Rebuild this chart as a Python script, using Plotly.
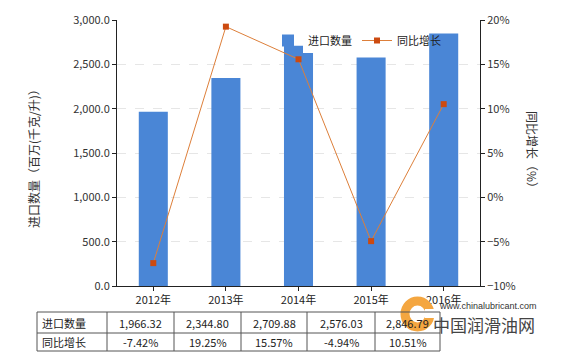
import plotly.graph_objects as go

years = ["2012年", "2013年", "2014年", "2015年", "2016年"]
import_qty = [1966.32, 2344.80, 2709.88, 2576.03, 2846.79]
yoy_growth = [-7.42, 19.25, 15.57, -4.94, 10.51]
qty_labels = ["1,966.32", "2,344.80", "2,709.88", "2,576.03", "2,846.79"]
growth_labels = ["-7.42%", "19.25%", "15.57%", "-4.94%", "10.51%"]
row_names = ["进口数量", "同比增长"]

OFF = 8  # browser default body margin
W, H = 567 - OFF, 360 - OFF
# plot area in reference-page pixels
L, R, T, B = 117, 480, 20, 286
FONT = "Noto Sans CJK SC, Microsoft YaHei, sans-serif"

def px(x):
    return (x - L) / (R - L)

def py(y):
    return (B - y) / (B - T)

fig = go.Figure()
fig.add_trace(go.Bar(x=years, y=import_qty, name="进口数量",
                     marker=dict(color="#4a86d6", line=dict(width=0)),
                     width=0.4, yaxis="y"))
fig.add_trace(go.Scatter(x=years, y=yoy_growth, name="同比增长", yaxis="y2",
                         mode="lines+markers",
                         line=dict(color="#dd7f3a", width=1),
                         marker=dict(symbol="square", size=6, color="#cc4a10")))

shapes = []
annotations = []

# white backing behind legend text (as in the reference)
shapes.append(dict(type="rect", xref="paper", yref="paper", layer="above",
                   x0=px(303), x1=px(427), y0=py(53), y1=py(30),
                   fillcolor="white", line=dict(width=0)))

# watermark logo: thick orange ring with a gap on the right
shapes.append(dict(type="circle", xref="paper", yref="paper",
                   x0=px(405), x1=px(430), y0=py(327), y1=py(301),
                   line=dict(color="#f4a640", width=9)))
shapes.append(dict(type="rect", xref="paper", yref="paper",
                   x0=px(425), x1=px(436), y0=py(318), y1=py(309),
                   fillcolor="white", line=dict(width=0)))

# table grid
col_x = [37, 107, 174, 241, 307, 375, 440]
row_y = [312, 333, 351]
for y in row_y:
    shapes.append(dict(type="line", xref="paper", yref="paper",
                       x0=px(col_x[0]), x1=px(col_x[-1]), y0=py(y), y1=py(y),
                       line=dict(color="#555", width=1)))
for x in col_x:
    shapes.append(dict(type="line", xref="paper", yref="paper",
                       x0=px(x), x1=px(x), y0=py(row_y[0]), y1=py(row_y[-1]),
                       line=dict(color="#555", width=1)))
rows = [qty_labels, growth_labels]
for r, (name, vals) in enumerate(zip(row_names, rows)):
    yc = (row_y[r] + row_y[r + 1]) / 2
    annotations.append(dict(text=name, xref="paper", yref="paper",
                            x=px(col_x[0] + 3), y=py(yc), xanchor="left",
                            yanchor="middle", showarrow=False,
                            font=dict(size=11, color="#222", family=FONT)))
    for i, v in enumerate(vals):
        xc = (col_x[i + 1] + col_x[i + 2]) / 2
        annotations.append(dict(text=v, xref="paper", yref="paper",
                                x=px(xc), y=py(yc), xanchor="center",
                                yanchor="middle", showarrow=False,
                                font=dict(size=11, color="#222", family=FONT)))

# axis titles
annotations.append(dict(text="进口数量（百万(千克/升)）", xref="paper", yref="paper",
                        x=px(33), y=py(156), xanchor="center", yanchor="middle",
                        textangle=-90, showarrow=False,
                        font=dict(size=12, color="#333", family=FONT)))
annotations.append(dict(text="同比增长（%）", xref="paper", yref="paper",
                        x=px(533), y=py(152), xanchor="center", yanchor="middle",
                        textangle=90, showarrow=False,
                        font=dict(size=12, color="#333", family=FONT)))

# watermark text
annotations.append(dict(text="www.chinalubricant.com", xref="paper", yref="paper",
                        x=px(539), y=py(306), xanchor="right", yanchor="middle",
                        showarrow=False,
                        font=dict(size=9, color="#333", family="Liberation Sans")))
annotations.append(dict(text="中国润滑油网", xref="paper", yref="paper",
                        x=px(537), y=py(324), xanchor="right", yanchor="middle",
                        showarrow=False,
                        font=dict(size=17, color="#444", family=FONT)))

fig.update_layout(
    width=W, height=H,
    margin=dict(l=L - OFF, r=W - (R - OFF), t=T - OFF, b=H - (B - OFF),
                autoexpand=False),
    paper_bgcolor="white", plot_bgcolor="white",
    font=dict(family=FONT, size=11, color="#333"),
    showlegend=True,
    legend=dict(orientation="h", x=px(268), y=py(26), xanchor="left",
                yanchor="top", bgcolor="rgba(0,0,0,0)",
                font=dict(size=11, color="#222", family=FONT),
                tracegroupgap=0),
    xaxis=dict(showline=True, linecolor="#222", linewidth=1, ticks="outside",
               ticklen=4, tickcolor="#222", showgrid=False,
               tickfont=dict(size=11, color="#222")),
    yaxis=dict(range=[0, 3000], dtick=500, tickformat=",.1f",
               showline=True, linecolor="#222", linewidth=1,
               ticks="outside", ticklen=4, tickcolor="#222",
               showgrid=True, gridcolor="#e6e6e6", griddash="dash",
               zeroline=False,
               tickfont=dict(size=11, color="#333")),
    yaxis2=dict(range=[-10, 20], dtick=5, ticksuffix="%", overlaying="y",
                side="right", showline=True, linecolor="#222", linewidth=1,
                ticks="outside", ticklen=4, tickcolor="#222",
                showgrid=False, zeroline=False,
                tickfont=dict(size=11, color="#333")),
    shapes=shapes, annotations=annotations,
)

fig.write_html("out.html")
